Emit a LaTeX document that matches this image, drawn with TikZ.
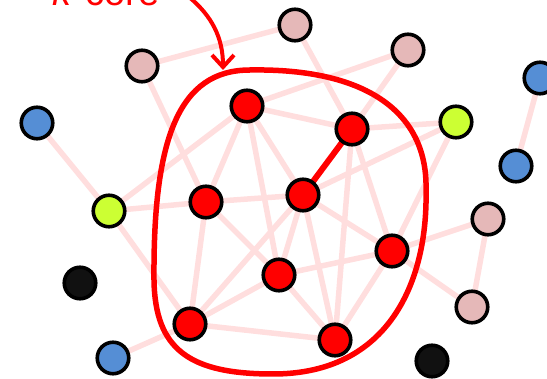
\documentclass[tikz,border=0pt]{standalone}
\usepackage{fontspec}
\setmainfont{Liberation Sans}
\usetikzlibrary{arrows.meta}
\definecolor{edgecol}{RGB}{255,222,222}
\definecolor{nred}{RGB}{255,0,0}
\definecolor{npink}{RGB}{229,184,184}
\definecolor{nblue}{RGB}{85,142,213}
\definecolor{nyellow}{RGB}{204,255,51}
\definecolor{nblack}{RGB}{17,17,17}
\tikzset{
  vtx/.style={circle, draw=black, line width=3.6pt, minimum size=31.5pt, inner sep=0pt},
  rv/.style={vtx, fill=nred},
  pv/.style={vtx, fill=npink},
  bv/.style={vtx, fill=nblue},
  yv/.style={vtx, fill=nyellow},
  kv/.style={vtx, fill=nblack},
  lnk/.style={draw=edgecol, line width=5.5pt},
  corelnk/.style={draw=nred, line width=6pt},
  outline/.style={draw=nred, line width=5.5pt},
  callout/.style={draw=nred, line width=4pt, -{Straight Barb[length=12pt,width=22pt,line width=4pt]}},
  lbl/.style={text=nred, font=\fontsize{38}{40}\selectfont, inner sep=0pt, anchor=base}
}
\begin{document}
\begin{tikzpicture}[x=1pt, y=-1pt]
\clip (0,0) rectangle (547,379);
% node positions
\path
  (37,123) coordinate (cb1)
  (142,66) coordinate (cp1)
  (295,25) coordinate (cp2)
  (408,50) coordinate (cp3)
  (540,78) coordinate (cb2)
  (456,122) coordinate (cy1)
  (516,166) coordinate (cb3)
  (247,106) coordinate (crA)
  (352,129) coordinate (crB)
  (206,202) coordinate (crC)
  (303,195) coordinate (crD)
  (109,211) coordinate (cy2)
  (392,251) coordinate (crE)
  (488,219) coordinate (cp4)
  (279,275) coordinate (crF)
  (80,283) coordinate (ck1)
  (472,307) coordinate (cp5)
  (190,324) coordinate (crG)
  (335,340) coordinate (crH)
  (113,358) coordinate (cb4)
  (432,361) coordinate (ck2);
% edges
\foreach \u/\v in {p1/p2, p1/rC, b1/y2, rA/y2, rA/p3, rA/rB, rA/rC, rA/rF, rA/rD,
  p2/rB, p3/rB, rB/y1, rB/rH, rB/rE, rD/y1, y1/rE, rD/rC, y2/rC, rD/rF, rD/rG,
  rD/rH, rD/rE, rC/rG, rC/rF, y2/rG, b4/rG, rG/rH, rG/rF, rF/rE, rF/rH,
  rE/p4, rE/p5, rE/rH, p4/p5, b2/b3}
  \draw[lnk] (c\u) -- (c\v);
% k-core outline
\draw[outline] (250,70) .. controls (370,68) and (428,115) .. (426,190)
  .. controls (428,280) and (390,374) .. (273,374)
  .. controls (190,374) and (155,350) .. (154,280)
  .. controls (153,140) and (178,70) .. (250,70) -- cycle;
\draw[corelnk] (crB) -- (crD);
% vertices
\node[bv] (b1) at (cb1) {};
\node[pv] (p1) at (cp1) {};
\node[pv] (p2) at (cp2) {};
\node[pv] (p3) at (cp3) {};
\node[bv] (b2) at (cb2) {};
\node[yv] (y1) at (cy1) {};
\node[bv] (b3) at (cb3) {};
\node[rv] (rA) at (crA) {};
\node[rv] (rB) at (crB) {};
\node[rv] (rC) at (crC) {};
\node[rv] (rD) at (crD) {};
\node[yv] (y2) at (cy2) {};
\node[rv] (rE) at (crE) {};
\node[pv] (p4) at (cp4) {};
\node[rv] (rF) at (crF) {};
\node[kv] (k1) at (ck1) {};
\node[pv] (p5) at (cp5) {};
\node[rv] (rG) at (crG) {};
\node[rv] (rH) at (crH) {};
\node[bv] (b4) at (cb4) {};
\node[kv] (k2) at (ck2) {};
% label and callout
\node[lbl] (kcore) at (106,6) {\textit{k}-core};
\coordinate (arrstart) at (189,-3);
\coordinate (arrend) at (223,70);
\draw[callout] (arrstart) .. controls (212,16) and (223,38) .. (arrend);
\end{tikzpicture}
\end{document}
